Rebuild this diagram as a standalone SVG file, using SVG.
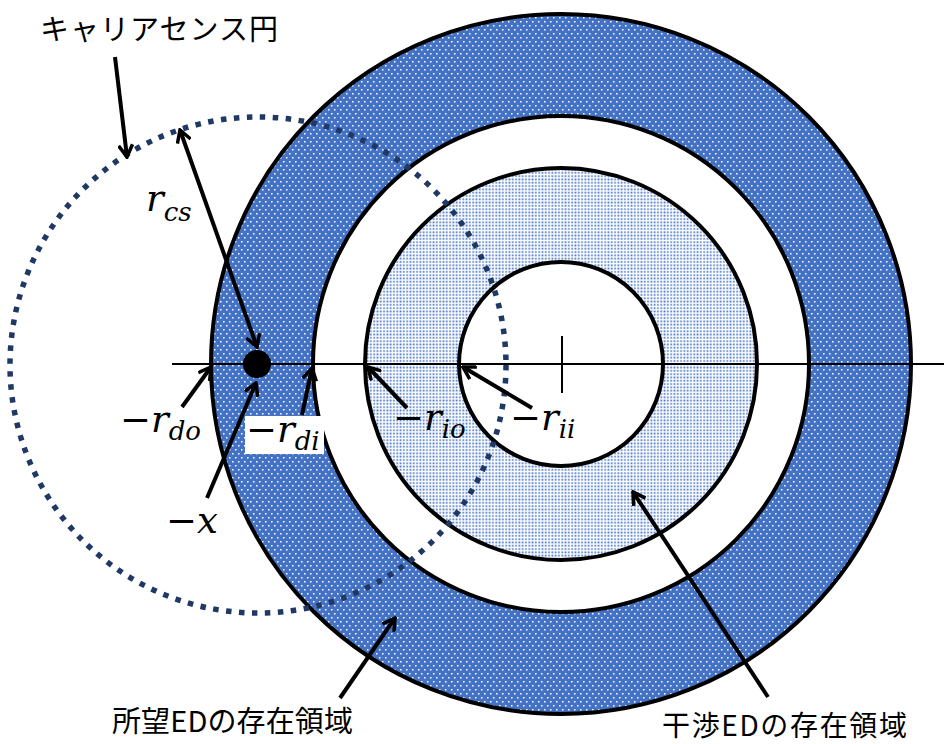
<svg xmlns="http://www.w3.org/2000/svg" width="944" height="744" viewBox="0 0 944 744">
<defs>
<pattern id="pDark" width="6" height="8" patternUnits="userSpaceOnUse">
<rect width="6" height="8" fill="#4472C4"/>
<rect x="1" y="1" width="1.5" height="1.5" fill="#ffffff"/>
<rect x="4" y="5" width="1.5" height="1.5" fill="#ffffff"/>
</pattern>
<pattern id="pLight" width="3.3" height="3.3" patternUnits="userSpaceOnUse">
<rect width="3.3" height="3.3" fill="#ffffff"/>
<rect x="0.4" y="0.4" width="1.7" height="1.7" fill="#4472C4"/>
</pattern>
<marker id="ah" viewBox="0 0 16 16" refX="14" refY="8" markerWidth="16" markerHeight="16" markerUnits="userSpaceOnUse" orient="auto-start-reverse">
<path d="M2,1 L14,8 L2,15" fill="none" stroke="#000" stroke-width="3.5"/>
</marker>
<style>
.ring{stroke:#000;stroke-width:4}
.arr{stroke:#000;stroke-width:4;fill:none;marker-end:url(#ah)}
.math{font-family:"DejaVu Serif","Liberation Serif",serif;font-style:italic;fill:#000}
.jp{font-family:"Noto Sans CJK JP","Noto Sans",sans-serif;fill:#000}
</style>
</defs>
<rect width="944" height="744" fill="#fff"/>
<g id="rings">
<circle id="outer" cx="561" cy="364" r="350" fill="url(#pDark)" class="ring"/>
<circle id="gap" cx="561" cy="364" r="248" fill="#fff" class="ring"/>
<circle id="interf" cx="561" cy="364" r="196" fill="url(#pLight)" class="ring"/>
<circle id="inner" cx="561" cy="364" r="102" fill="#fff" class="ring"/>
</g>
<g id="axis">
<line x1="172" y1="364" x2="944" y2="364" stroke="#000" stroke-width="2"/>
<line x1="562" y1="336" x2="562" y2="393" stroke="#000" stroke-width="2"/>
</g>
<g id="carrier">
<circle cx="258" cy="365" r="248" fill="none" stroke="#1F3864" stroke-width="5.5" stroke-dasharray="5.5 7.5"/>
</g>
<g id="ed">
<circle cx="257" cy="364" r="14" fill="#000"/>
</g>
<g id="connectors">
<line x1="115" y1="57" x2="127" y2="157" class="arr"/>
<line x1="180" y1="130" x2="257" y2="347" class="arr" marker-start="url(#ah)"/>
<line x1="182" y1="407" x2="211" y2="367" class="arr"/>
<line x1="207" y1="498" x2="256" y2="383" class="arr"/>
<line x1="302" y1="415" x2="312" y2="368" class="arr"/>
<line x1="407" y1="408" x2="368" y2="367" class="arr"/>
<line x1="532" y1="408" x2="463" y2="367" class="arr"/>
<line x1="340" y1="698" x2="395" y2="618" class="arr"/>
<line x1="768" y1="697" x2="633" y2="492" class="arr"/>
</g>
<g id="labels">
<text class="jp" x="40" y="40" font-size="29" textLength="238" lengthAdjust="spacing">キャリアセンス円</text>
<text class="jp" x="112" y="732" font-size="29" textLength="241" lengthAdjust="spacing">所望EDの存在領域</text>
<text class="jp" x="662" y="736" font-size="28" textLength="245" lengthAdjust="spacing">干渉EDの存在領域</text>
<text class="math" x="146" y="211" font-size="37">r<tspan font-size="26" dy="10">cs</tspan></text>
<text class="math" x="120" y="432" font-size="37"><tspan font-style="normal">−</tspan>r<tspan font-size="26" dy="8">do</tspan></text>
<rect x="245" y="416" width="79" height="38" fill="#fff"/>
<text class="math" x="246" y="442" font-size="37"><tspan font-style="normal">−</tspan>r<tspan font-size="26" dy="8">di</tspan></text>
<text class="math" x="166" y="533" font-size="37"><tspan font-style="normal">−</tspan>x</text>
<text class="math" x="393" y="430" font-size="37"><tspan font-style="normal">−</tspan>r<tspan font-size="26" dy="8">io</tspan></text>
<text class="math" x="510" y="430" font-size="37"><tspan font-style="normal">−</tspan>r<tspan font-size="26" dy="8">ii</tspan></text>
</g>
</svg>
